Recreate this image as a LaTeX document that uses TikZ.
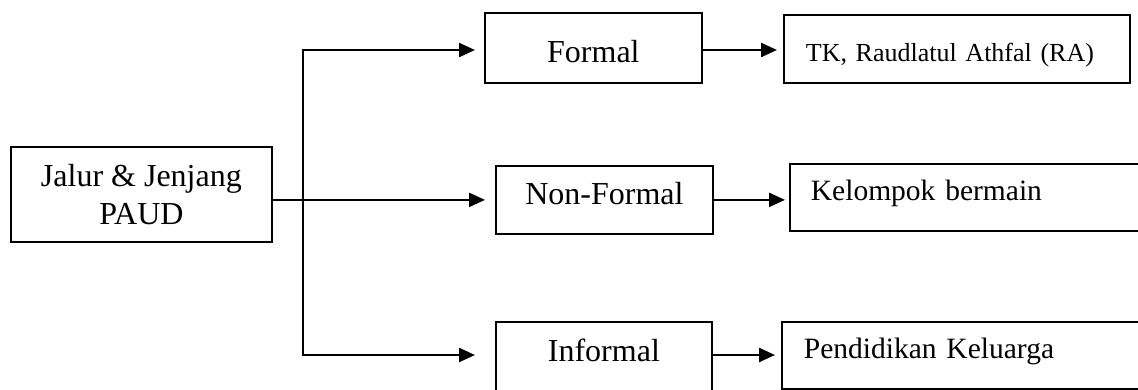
\documentclass[tikz,border=0pt]{standalone}
\usepackage{fontspec}
\setmainfont{Liberation Serif}
\usetikzlibrary{arrows.meta,calc}
\begin{document}
\begin{tikzpicture}[x=1pt,y=-1pt,
  box/.style={draw,line width=1.8pt,inner sep=0pt,anchor=north west},
  midtext/.style={font=\fontsize{32}{38}\selectfont,align=center},
  righttext/.style={align=left},
  conn/.style={line width=2.4pt},
  arr/.style={line width=2.4pt,-{Triangle[length=16pt,width=14pt]}}]
\useasboundingbox (0,0) rectangle (1138,390);
\clip (0,0) rectangle (1138,390);
% left box
\node[box,midtext,minimum width=261pt,minimum height=95pt] (jalur) at (10,146) {Jalur \& Jenjang\\PAUD};
% middle boxes
\node[box,midtext,minimum width=217pt,text height=50pt,text depth=20pt] (formal) at (484,12) {Formal};
\node[box,midtext,minimum width=217pt,text height=39pt,text depth=29pt] (nonformal) at (495,165) {Non-Formal};
\node[box,midtext,minimum width=216pt,text height=40pt,text depth=34pt] (informal) at (495,321) {Informal};
% right boxes
\node[box,font=\fontsize{26}{30}\selectfont,righttext,inner xsep=22pt,text width=302pt,text height=47pt,text depth=21pt] (tk) at (783,14) {TK, Raudlatul Athfal (RA)};
\node[box,font=\fontsize{29.5}{34}\selectfont,righttext,inner xsep=21pt,text width=324pt,text height=37pt,text depth=30pt] (kelompok) at (789,163) {Kelompok bermain};
\node[box,font=\fontsize{29.5}{34}\selectfont,righttext,inner xsep=22pt,text width=330pt,text height=37pt,text depth=30pt] (keluarga) at (781,321) {Pendidikan Keluarga};
% trunk
\coordinate (vtop) at (303,50);
\coordinate (vbot) at (303,355);
\draw[conn,line cap=rect] (vtop) -- (vbot);
\draw[arr,shorten >=9pt] (vtop) -- (vtop -| formal.west);
\draw[arr,shorten >=10pt] (jalur.east |- nonformal.west) -- (nonformal.west);
\draw[arr,shorten >=20pt] (vbot) -- (vbot -| informal.west);
% second level
\draw[arr,shorten >=6pt] (formal.east |- vtop) -- (tk.west |- vtop);
\draw[arr,shorten >=4pt] (nonformal.east) -- (nonformal.east -| kelompok.west);
\draw[arr,shorten >=6pt] (informal.east |- vbot) -- (keluarga.west |- vbot);
\end{tikzpicture}
\end{document}
